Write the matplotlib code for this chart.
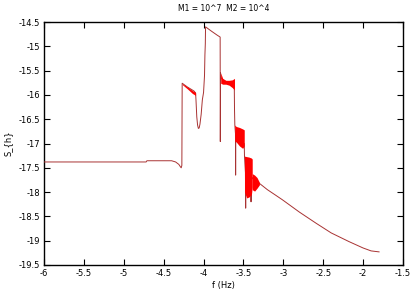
import matplotlib
matplotlib.use('Agg')
import matplotlib.pyplot as plt

plt.rcParams['font.family'] = 'DejaVu Sans'
plt.rcParams['axes.unicode_minus'] = False

# main trace (log10 f, log10 S_h)
f_main = [-6.0, -4.72, -4.71, -4.40, -4.35, -4.31, -4.29, -4.28, -4.272, -4.268,
          -4.20, -4.12, -4.10, -4.095, -4.085, -4.075, -4.065, -4.055, -4.045,
          -4.03, -4.015, -4.00, -3.988, -3.983, -3.978, -3.975, -3.90, -3.83,
          -3.792, -3.790, -3.787, -3.78, -3.74, -3.70, -3.65, -3.615, -3.612,
          -3.608, -3.60, -3.598, -3.596, -3.55, -3.49, -3.487, -3.475, -3.472,
          -3.470, -3.44, -3.407, -3.405, -3.40, -3.39, -3.35, -3.30, -3.20,
          -3.10, -3.01, -2.80, -2.59, -2.40, -2.175, -2.00, -1.90, -1.80]
s_main = [-17.38, -17.38, -17.355, -17.355, -17.38, -17.43, -17.48, -17.50, -17.45, -15.76,
          -15.84, -15.92, -15.96, -16.10, -16.45, -16.62, -16.69, -16.68, -16.60,
          -16.40, -16.10, -15.95, -15.60, -15.18, -14.95, -14.60, -14.69, -14.77,
          -14.81, -16.96, -15.55, -15.65, -15.72, -15.73, -15.76, -15.80, -16.30,
          -16.62, -16.80, -17.65, -16.85, -16.95, -17.00, -17.26, -17.60, -18.33,
          -17.70, -17.70, -17.75, -18.20, -17.75, -17.70, -17.80, -17.82, -17.95,
          -18.06, -18.16, -18.41, -18.64, -18.84, -19.02, -19.15, -19.21, -19.23]

# dense oscillation envelopes (drawn solid red)
band_a_f = [-4.265, -4.20, -4.14, -4.10]
band_a_hi = [-15.77, -15.84, -15.91, -15.95]
band_a_lo = [-15.79, -15.88, -15.97, -16.01]

band_b_f = [-3.785, -3.76, -3.72, -3.68, -3.64, -3.612]
band_b_hi = [-15.55, -15.66, -15.70, -15.70, -15.69, -15.66]
band_b_lo = [-15.76, -15.78, -15.78, -15.80, -15.85, -15.90]

band_c_f = [-3.61, -3.59, -3.55, -3.51, -3.49]
band_c_hi = [-16.62, -16.65, -16.67, -16.70, -16.72]
band_c_lo = [-16.95, -16.97, -17.05, -17.10, -17.05]

band_d_f = [-3.487, -3.46, -3.43, -3.40, -3.39]
band_d_hi = [-17.26, -17.27, -17.28, -17.30, -17.32]
band_d_lo = [-18.00, -18.12, -18.10, -18.05, -17.90]

band_e_f = [-3.39, -3.36, -3.33, -3.30]
band_e_hi = [-17.62, -17.65, -17.70, -17.80]
band_e_lo = [-17.95, -17.98, -17.92, -17.85]

x_ticks = [-6, -5.5, -5, -4.5, -4, -3.5, -3, -2.5, -2, -1.5]
x_labels = ['-6', '-5.5', '-5', '-4.5', '-4', '-3.5', '-3', '-2.5', '-2', '-1.5']
y_ticks = [-19.5, -19, -18.5, -18, -17.5, -17, -16.5, -16, -15.5, -15, -14.5]
y_labels = ['-19.5', '-19', '-18.5', '-18', '-17.5', '-17', '-16.5', '-16', '-15.5', '-15', '-14.5']

fig = plt.figure(figsize=(4.15, 2.92), dpi=100)
ax = fig.add_axes([44 / 415, 27 / 292, 359 / 415, 243 / 292])

ax.plot(f_main, s_main, color='#a83232', lw=0.7, zorder=3)
bands = [(band_a_f, band_a_hi, band_a_lo), (band_b_f, band_b_hi, band_b_lo),
         (band_c_f, band_c_hi, band_c_lo), (band_d_f, band_d_hi, band_d_lo),
         (band_e_f, band_e_hi, band_e_lo)]
for bf, hi, lo in bands:
    ax.fill_between(bf, lo, hi, color='#ff0000', lw=0, zorder=4)

ax.set_xlim(-6, -1.5)
ax.set_ylim(-19.5, -14.5)
ax.set_xticks(x_ticks)
ax.set_xticklabels(x_labels)
ax.set_yticks(y_ticks)
ax.set_yticklabels(y_labels)
ax.tick_params(direction='in', length=4, width=0.8, labelsize=6,
               top=True, right=True, pad=3)
for sp in ax.spines.values():
    sp.set_linewidth(1.0)

ax.set_title('M1 = 10^7  M2 = 10^4', fontsize=5.5, pad=8)
ax.set_xlabel('f (Hz)', fontsize=6, labelpad=2)
ax.set_ylabel('S_{h}', fontsize=6, labelpad=4)

plt.savefig('out.png', dpi=100)
plt.close()
